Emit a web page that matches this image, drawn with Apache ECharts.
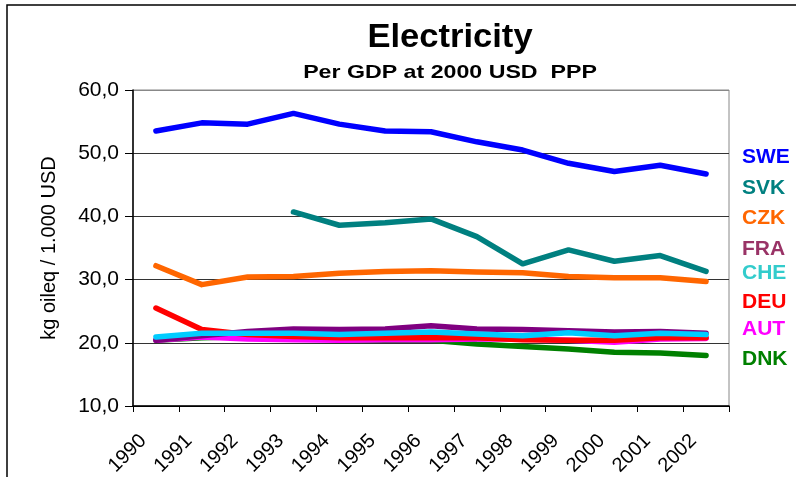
<!DOCTYPE html>
<html>
<head>
<meta charset="utf-8">
<script src="https://cdn.jsdelivr.net/npm/echarts@6/dist/echarts.min.js"></script>
<style>
html,body{margin:0;padding:0;background:#fff;}
#chart{width:796px;height:477px;}
</style>
</head>
<body>
<div id="chart"></div>
<script>
var years = ['1990','1991','1992','1993','1994','1995','1996','1997','1998','1999','2000','2001','2002'];
var yTicks = [10, 20, 30, 40, 50, 60];
var SWE = [53.5, 54.8, 54.6, 56.3, 54.6, 53.5, 53.4, 51.8, 50.5, 48.4, 47.1, 48.1, 46.7];
var SVK = [null, null, null, 40.7, 38.6, 39.0, 39.6, 36.8, 32.5, 34.7, 32.9, 33.8, 31.3];
var CZK = [32.2, 29.2, 30.4, 30.5, 31.0, 31.3, 31.4, 31.2, 31.1, 30.5, 30.3, 30.3, 29.7];
var FRA = [20.4, 21.1, 21.8, 22.2, 22.1, 22.2, 22.7, 22.2, 22.1, 21.9, 21.7, 21.8, 21.5];
var CHE = [20.9, 21.5, 21.5, 21.5, 21.3, 21.5, 21.7, 21.4, 21.1, 21.6, 21.1, 21.5, 21.3];
var DEU = [25.5, 22.1, 21.3, 21.0, 20.8, 20.8, 20.8, 20.8, 20.5, 20.4, 20.4, 20.8, 20.8];
var AUT = [20.4, 20.9, 20.6, 20.5, 20.4, 20.5, 20.5, 20.6, 20.6, 20.4, 20.1, 20.6, 20.7];
var DNK = [20.4, 20.8, 21.0, 20.8, 20.5, 20.4, 20.4, 19.8, 19.4, 19.0, 18.5, 18.4, 18.0];

var seriesDefs = [
  {name:'SWE', data:SWE, line:'#0000FF', label:'#0000FF'},
  {name:'SVK', data:SVK, line:'#008080', label:'#008080'},
  {name:'CZK', data:CZK, line:'#FF6600', label:'#FF6600'},
  {name:'DNK', data:DNK, line:'#008000', label:'#008000'},
  {name:'AUT', data:AUT, line:'#FF00FF', label:'#FF00FF'},
  {name:'DEU', data:DEU, line:'#FF0000', label:'#FF0000'},
  {name:'FRA', data:FRA, line:'#800080', label:'#993366'},
  {name:'CHE', data:CHE, line:'#00CCFF', label:'#33CCCC'}
];
var legendOrder = ['SWE','SVK','CZK','FRA','CHE','DEU','AUT','DNK'];
var legendY = [158, 189, 219, 250, 274, 303, 330, 360];

var chart = echarts.init(document.getElementById('chart'), null, {renderer:'canvas'});
var font = 'Liberation Sans, Arial, sans-serif';

var graphics = [{
  type:'rect', shape:{x:7, y:5, width:820, height:520},
  style:{fill:'none', stroke:'#000', lineWidth:1.5}, silent:true
}, {
  type:'text', x:450, y:38, scaleX:1.08, scaleY:1.03,
  style:{text:'Electricity', fill:'#000', font:'bold 32px ' + font, textAlign:'center', textVerticalAlign:'middle'}
}, {
  type:'text', x:450, y:73, scaleX:1.22,
  style:{text:'Per GDP at 2000 USD  PPP', fill:'#000', font:'bold 19px ' + font, textAlign:'center', textVerticalAlign:'middle'}
}];
legendOrder.forEach(function(n, i){
  var d = seriesDefs.filter(function(s){return s.name===n;})[0];
  graphics.push({
    type:'text', left:742, top:legendY[i]-11,
    style:{text:n, fill:d.label, font:'bold 21px ' + font}
  });
});

chart.setOption({
  animation:false,
  backgroundColor:'#fff',
  grid:{left:133, right:67, top:90, bottom:71, show:true, borderColor:'#888', borderWidth:1,
    backgroundColor:'#fff', containLabel:false, outerBoundsMode:'none'},
  xAxis:{
    type:'category', data:years, boundaryGap:true,
    axisLine:{show:true, lineStyle:{color:'#000', width:1.5}},
    axisTick:{show:true, inside:false, length:6, lineStyle:{color:'#000'}},
    axisLabel:{rotate:45, margin:19, padding:[0,18,0,0], fontFamily:font, fontSize:20, color:'#000', interval:0}
  },
  yAxis:{
    type:'value', min:10, max:60, interval:10,
    name:'kg oileq / 1.000 USD', nameLocation:'middle', nameGap:74, nameRotate:90,
    nameTextStyle:{fontFamily:font, fontSize:20, color:'#000'},
    axisLine:{show:true, lineStyle:{color:'#000', width:1.5}},
    axisTick:{show:true, inside:false, length:8, lineStyle:{color:'#000'}},
    axisLabel:{margin:14, fontFamily:font, fontSize:21, color:'#000',
      formatter:function(v){return v.toFixed(1).replace('.', ',');}},
    splitLine:{show:true, lineStyle:{color:['#000','#333','#333','#333','#333','#888'], width:1}}
  },
  graphic:graphics,
  series:seriesDefs.map(function(s){
    return {name:s.name, type:'line', data:s.data, symbol:'none', connectNulls:false,
      lineStyle:{color:s.line, width:5.5, cap:'round', join:'round'}, itemStyle:{color:s.line}};
  })
});
</script>
</body>
</html>
